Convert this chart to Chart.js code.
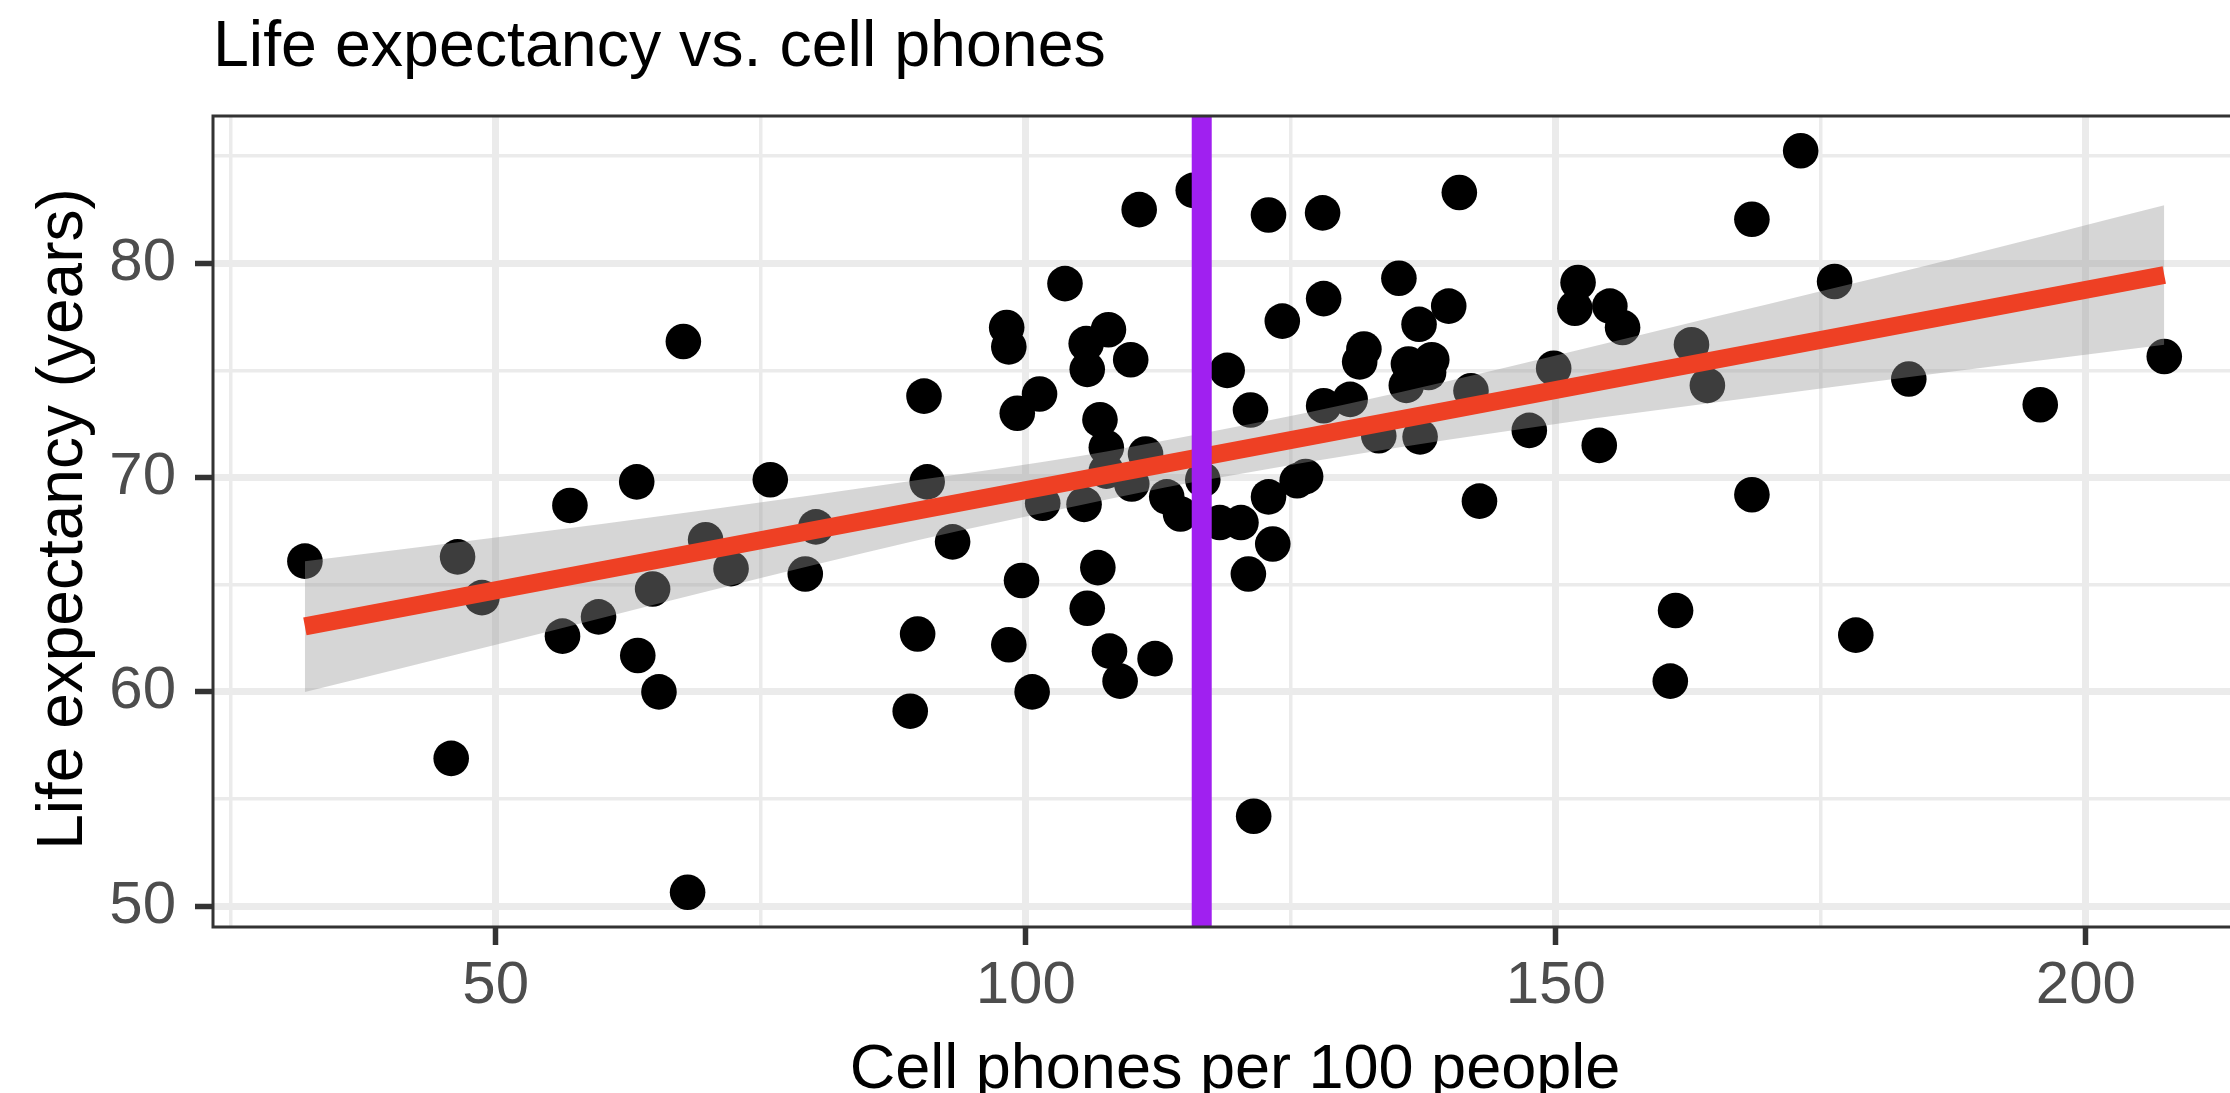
<!DOCTYPE html>
<html lang="en">
<head>
<meta charset="UTF-8">
<title>Life expectancy vs. cell phones</title>
<script src="https://cdn.jsdelivr.net/npm/chart.js"></script>
<style>
  html, body { margin: 0; padding: 0; background: #fff; overflow: hidden; }
  canvas { display: block; }
</style>
</head>
<body>
<canvas id="lifeChart" width="2230" height="1093"></canvas>
<script>
// one entry per country: cell phones per 100 people, life expectancy (years)
const phones = [
  32.0, 45.8, 46.4, 48.7, 56.3, 57.0, 59.7, 63.3, 63.4, 64.8,
  65.4, 67.7, 68.1, 69.8, 72.2, 75.9, 79.2, 80.2, 89.1, 89.8,
  90.4, 90.7, 93.1, 98.2, 98.4, 98.4, 99.2, 99.6, 100.6, 101.3,
  101.6, 103.7, 105.5, 105.7, 105.8, 105.8, 106.8, 107.0, 107.6, 107.6,
  107.8, 107.9, 108.9, 109.9, 110.0, 110.7, 111.3, 112.2, 113.3, 114.6,
  115.8, 116.7, 118.3, 119.0, 120.3, 121.0, 121.2, 121.5, 122.9, 122.9,
  123.3, 124.2, 125.6, 126.4, 128.0, 128.1, 128.1, 130.6, 131.5, 131.9,
  133.3, 135.2, 135.9, 136.1, 137.1, 137.2, 138.0, 138.3, 139.9, 140.9,
  142.0, 142.8, 147.5, 149.8, 151.8, 152.1, 154.1, 155.1, 156.3, 160.8,
  161.3, 162.8, 164.3, 168.5, 168.5, 173.1, 176.3, 178.3, 183.3, 195.7, 207.4
];
const lifeExp = [
  66.1, 56.9, 66.3, 64.4, 62.6, 68.7, 63.5, 69.8, 61.7, 64.8,
  60.0, 76.35, 50.65, 67.1, 65.75, 69.9, 65.5, 67.7, 59.1, 62.7,
  73.8, 69.8, 67.0, 77.0, 76.1, 62.2, 73.0, 65.2, 60.0, 73.9,
  68.8, 79.05, 68.75, 76.25, 75.05, 63.9, 65.8, 72.7, 71.4, 70.3,
  76.9, 61.9, 60.5, 75.5, 69.7, 82.5, 71.1, 61.55, 69.1, 68.3,
  83.4, 69.9, 67.9, 75.0, 67.9, 65.5, 73.15, 54.2, 82.25, 69.1,
  66.9, 77.3, 69.85, 70.05, 82.35, 78.35, 73.35, 73.65, 75.4, 76.0,
  71.95, 79.3, 74.3, 75.3, 77.15, 71.9, 74.9, 75.5, 78.0, 83.3,
  74.05, 68.9, 72.2, 75.1, 77.9, 79.1, 71.5, 78.0, 77.0, 60.5,
  63.8, 76.2, 74.3, 82.05, 69.2, 85.25, 79.15, 62.65, 74.6, 73.4, 75.65
];

// fitted line and its confidence band
const fitX = [32.0, 207.4];
const fitY = [63.06, 79.45];
const bandX = [32.0, 50, 70, 90, 105, 116, 130, 150, 165, 185, 207.4];
const bandUpper = [66.1, 67.2, 68.5, 69.9, 71.0, 72.0, 73.4, 75.7, 77.5, 79.9, 82.7];
const bandLower = [60.0, 62.2, 64.7, 67.1, 68.7, 69.8, 71.0, 72.5, 73.5, 74.8, 76.2];

// vertical reference line
const meanPhones = 116.6;

const xTicks = [25, 50, 75, 100, 125, 150, 175, 200];
const xLabels = ['', '50', '', '100', '', '150', '', '200'];
const yTicks = [50, 55, 60, 65, 70, 75, 80, 85];
const yLabels = ['50', '', '60', '', '70', '', '80', ''];

const xMin = 23.33, xMax = 213.6, yMin = 49.03, yMax = 86.87;

const FONT = "'Liberation Sans', Arial, Helvetica, sans-serif";
const GRID = '#EBEBEB';
const INK = '#333333';

// panel border plus title and axis titles
const frameAndTitles = {
  id: 'frameAndTitles',
  afterDraw(chart) {
    const { ctx, chartArea: a } = chart;
    ctx.save();
    ctx.strokeStyle = INK;
    ctx.lineWidth = 3;
    ctx.beginPath();
    ctx.moveTo(a.right + 2, a.top);
    ctx.lineTo(a.left, a.top);
    ctx.lineTo(a.left, a.bottom);
    ctx.lineTo(a.right + 2, a.bottom);
    ctx.stroke();

    ctx.fillStyle = '#000';
    ctx.textBaseline = 'alphabetic';

    ctx.font = '64.5px ' + FONT;
    ctx.textAlign = 'left';
    ctx.fillText('Life expectancy vs. cell phones', a.left, 66);

    ctx.font = '63px ' + FONT;
    ctx.textAlign = 'center';
    ctx.fillText('Cell phones per 100 people', 1235, 1088);

    ctx.translate(82, 519);
    ctx.rotate(-Math.PI / 2);
    ctx.font = '64px ' + FONT;
    ctx.fillText('Life expectancy (years)', 0, 0);
    ctx.restore();
  }
};

const isMajor = labels => c => labels[c.index] !== '';

new Chart(document.getElementById('lifeChart'), {
  type: 'scatter',
  data: {
    datasets: [
      {
        label: 'Countries',
        data: phones.map((x, i) => ({ x, y: lifeExp[i] })),
        backgroundColor: '#000000',
        borderWidth: 0,
        pointRadius: 17.8,
        pointHoverRadius: 17.8,
        order: 5
      },
      {
        label: 'Band lower',
        type: 'line',
        showLine: true,
        data: bandX.map((x, i) => ({ x, y: bandLower[i] })),
        borderColor: 'transparent',
        borderWidth: 0,
        pointRadius: 0,
        cubicInterpolationMode: 'monotone',
        fill: false,
        order: 4
      },
      {
        label: 'Band upper',
        type: 'line',
        showLine: true,
        data: bandX.map((x, i) => ({ x, y: bandUpper[i] })),
        borderColor: 'transparent',
        borderWidth: 0,
        pointRadius: 0,
        cubicInterpolationMode: 'monotone',
        fill: '-1',
        backgroundColor: 'rgba(153,153,153,0.4)',
        order: 3
      },
      {
        label: 'Fit',
        type: 'line',
        showLine: true,
        data: fitX.map((x, i) => ({ x, y: fitY[i] })),
        borderColor: '#EE4024',
        borderWidth: 18,
        borderCapStyle: 'butt',
        pointRadius: 0,
        fill: false,
        order: 2
      },
      {
        label: 'Mean',
        type: 'line',
        showLine: true,
        data: [{ x: meanPhones, y: yMin }, { x: meanPhones, y: yMax }],
        borderColor: '#A020F0',
        borderWidth: 20,
        borderCapStyle: 'butt',
        pointRadius: 0,
        fill: false,
        order: 1
      }
    ]
  },
  options: {
    responsive: false,
    animation: false,
    devicePixelRatio: 1,
    events: [],
    layout: {
      autoPadding: false,
      padding: { top: 116, left: 0, right: 0, bottom: 0 }
    },
    plugins: {
      legend: { display: false },
      tooltip: { enabled: false },
      title: { display: false }
    },
    scales: {
      x: {
        type: 'linear',
        min: xMin,
        max: xMax,
        afterBuildTicks: s => { s.ticks = xTicks.map(v => ({ value: v })); },
        afterFit: s => {
          s.height = 166;
          s.paddingLeft = 0;
          s.paddingRight = 0;
        },
        border: { display: false },
        grid: {
          color: GRID,
          lineWidth: c => isMajor(xLabels)(c) ? 7 : 3.5,
          drawTicks: true,
          tickLength: 18,
          tickWidth: 5.5,
          tickColor: c => isMajor(xLabels)(c) ? INK : 'rgba(0,0,0,0)'
        },
        ticks: {
          autoSkip: false,
          maxRotation: 0,
          padding: 5,
          color: '#4D4D4D',
          font: { family: FONT, size: 60 },
          callback: (v, i) => xLabels[i]
        }
      },
      y: {
        type: 'linear',
        min: yMin,
        max: yMax,
        afterBuildTicks: s => { s.ticks = yTicks.map(v => ({ value: v })); },
        afterFit: s => {
          s.width = 213;
          s.paddingTop = 0;
          s.paddingBottom = 0;
        },
        border: { display: false },
        grid: {
          color: GRID,
          lineWidth: c => isMajor(yLabels)(c) ? 7 : 3.5,
          drawTicks: true,
          tickLength: 18,
          tickWidth: 5.5,
          tickColor: c => isMajor(yLabels)(c) ? INK : 'rgba(0,0,0,0)'
        },
        ticks: {
          autoSkip: false,
          padding: 19,
          color: '#4D4D4D',
          font: { family: FONT, size: 60 },
          callback: (v, i) => yLabels[i]
        }
      }
    }
  },
  plugins: [frameAndTitles]
});
</script>
</body>
</html>
